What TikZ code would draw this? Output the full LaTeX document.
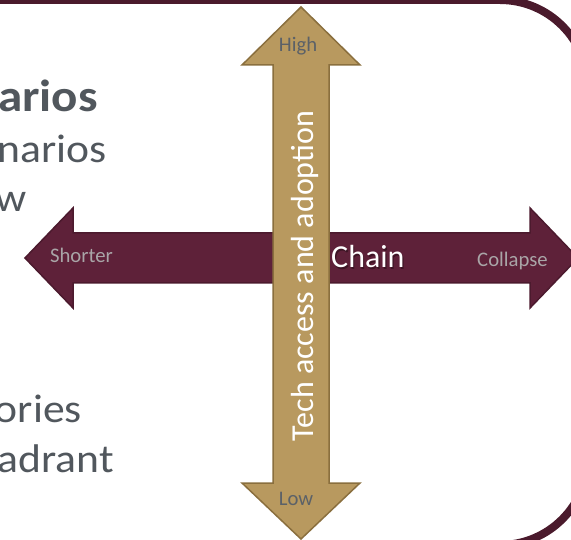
\documentclass[tikz,border=0pt]{standalone}
\usepackage{fontspec}
\setmainfont{Carlito}
\newfontfamily\bodyfont[FakeStretch=1.09]{Carlito}
\definecolor{framecol}{HTML}{4A1A2C}
\definecolor{wine}{HTML}{5E2139}
\definecolor{wineline}{HTML}{4C1A2E}
\definecolor{gold}{HTML}{B8995F}
\definecolor{goldline}{HTML}{8A6F3E}
\definecolor{slate}{HTML}{51575D}
\definecolor{labelgrey}{HTML}{5B6168}
\definecolor{softgrey}{HTML}{A9A5A7}
\begin{document}
\begin{tikzpicture}[x=1pt,y=-1pt,
  bodytext/.style={inner sep=0pt,text=slate,anchor=base east,font=\bodyfont\fontsize{40}{40}\selectfont},
  titletext/.style={inner sep=0pt,text=slate,anchor=base east,font=\bodyfont\fontsize{45}{45}\selectfont\bfseries},
  endlabel/.style={inner sep=0pt,anchor=base,font=\fontsize{20.7}{20.7}\selectfont},
  axistext/.style={inner sep=0pt,font=\fontsize{32}{32}\selectfont}]
\useasboundingbox (0,0) rectangle (571,540);
\fill[white] (0,0) rectangle (571,540);
\begin{scope}
\clip (0,0) rectangle (571,540);
% slide frame
\draw[framecol,line width=8pt,rounded corners=88pt] (-300,0) rectangle (588,545);
% text lines running off the left side
\node[titletext] (t1) at (98,112) {arios};
\node[bodytext] (t2) at (107,163) {narios};
\node[bodytext] (t3) at (27,212) {w};
\node[bodytext] (t4) at (82,422) {ories};
\node[bodytext] (t5) at (114,472) {adrant};
% horizontal double arrow
\draw[wineline,line width=1.5pt,fill=wine,line join=miter]
  (25,258) -- (73,208) -- (73,233) -- (530,233) -- (530,208) -- (578,258)
  -- (530,308) -- (530,283) -- (73,283) -- (73,308) -- cycle;
% vertical double arrow
\draw[goldline,line width=1.5pt,fill=gold,line join=miter]
  (301,7) -- (360,65) -- (329,65) -- (329,483) -- (360,483) -- (301,539)
  -- (242,483) -- (273,483) -- (273,65) -- (242,65) -- cycle;
% axis labels
\node[endlabel,text=softgrey] (shorter) at (81.5,263) {Shorter};
\node[endlabel,text=softgrey] (collapse) at (512.5,267) {Collapse};
\node[endlabel,text=labelgrey] (high) at (298,52) {High};
\node[endlabel,text=labelgrey] (low) at (296,505) {Low};
\node[axistext,anchor=base west,text=black,opacity=0.35] (chainshadow) at (332.2,269.5) {Chain};
\node[axistext,anchor=base west,text=white] (chain) at (331,268) {Chain};
\node[axistext,anchor=base,rotate=90,text=white] (tech) at (313,276) {Tech access and adoption};
\end{scope}
\end{tikzpicture}
\end{document}
